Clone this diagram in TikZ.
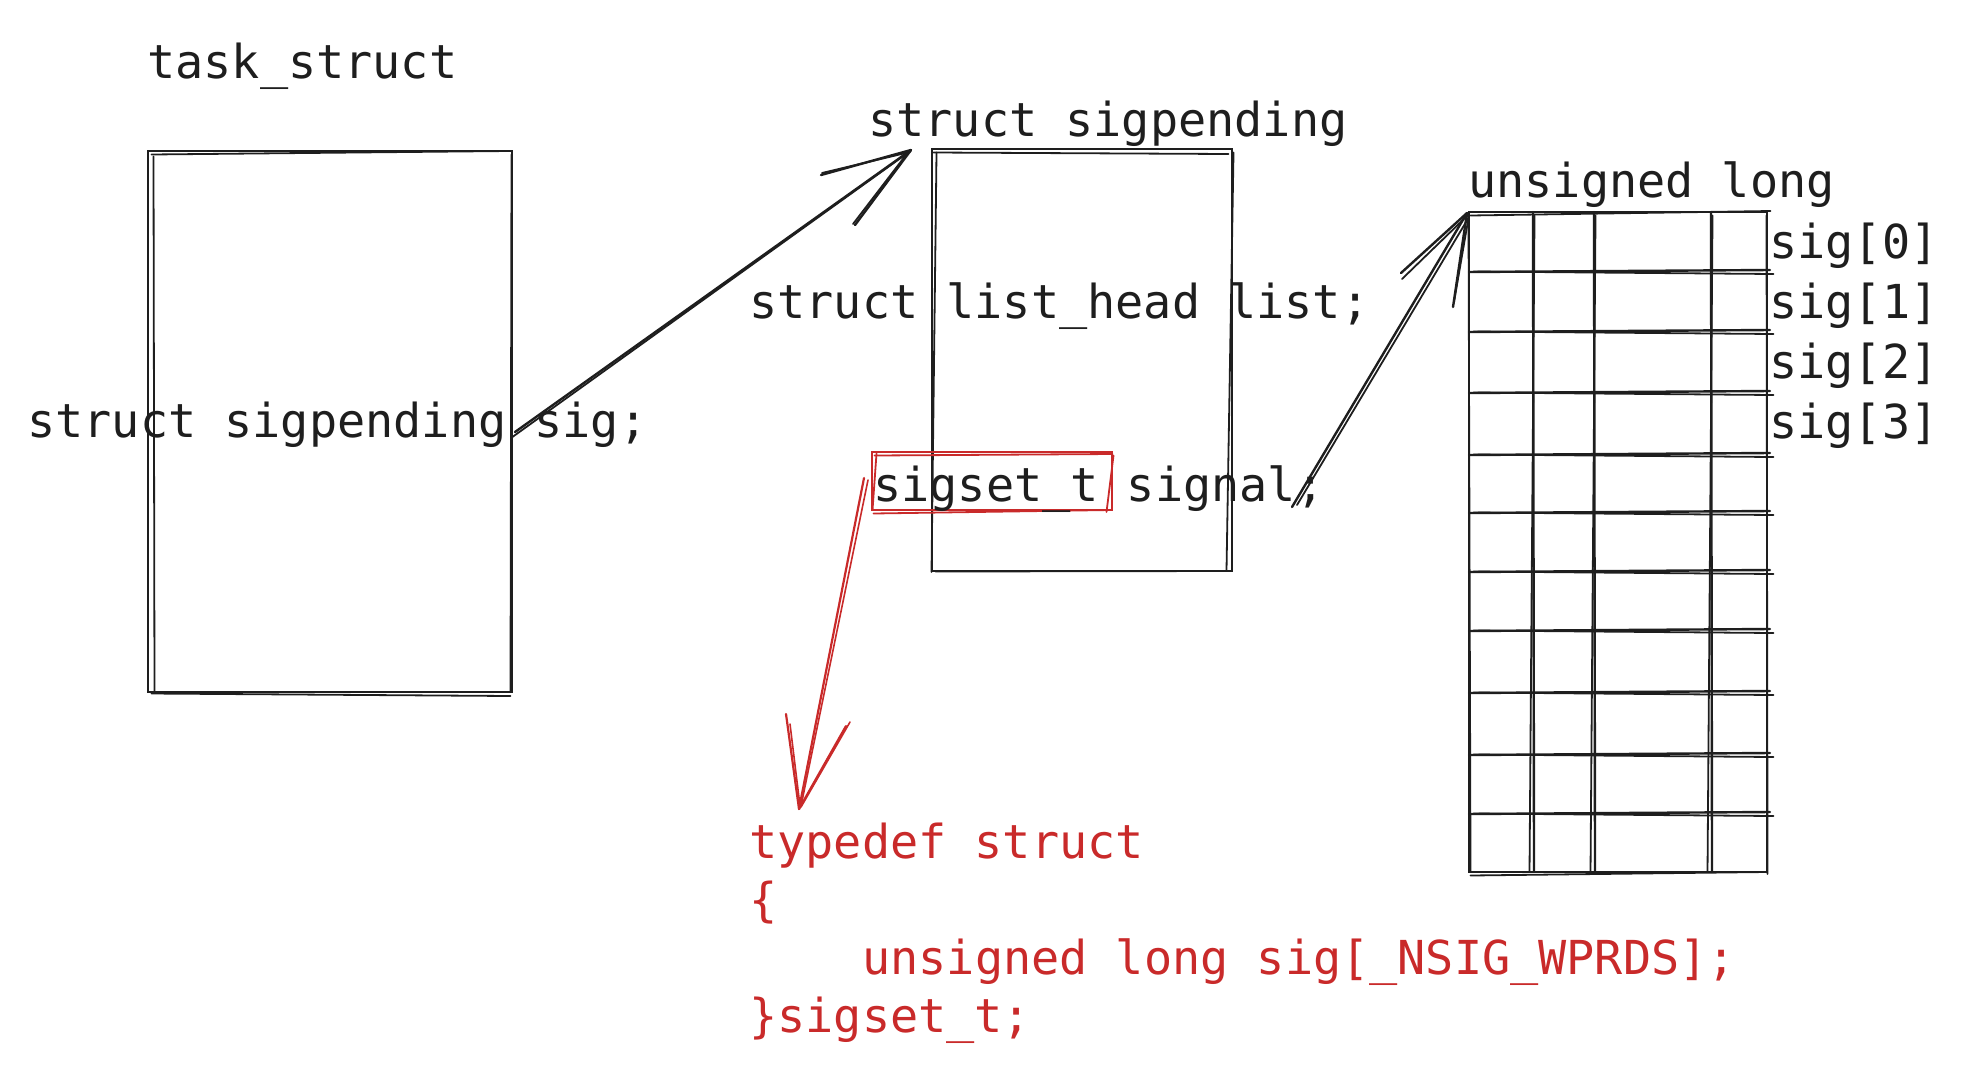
\documentclass[tikz,border=0pt]{standalone}
\usepackage{fontspec}
\setmonofont{DejaVu Sans Mono}
\usetikzlibrary{calc}
\definecolor{ink}{HTML}{1E1E1E}
\definecolor{redink}{HTML}{C92A2A}
\tikzset{
  stroke/.style={draw=ink,line width=1.2pt,line cap=round},
  rstroke/.style={draw=redink,line width=1.1pt,line cap=round},
  sbox/.style={draw=ink,line width=1.2pt,inner sep=0pt,rectangle},
  rbox/.style={draw=redink,line width=1.3pt,inner sep=0pt,rectangle},
  code/.style={anchor=base west,inner sep=0pt,font=\ttfamily\fontsize{23.4}{28}\selectfont,text=ink},
  rcode/.style={code,text=redink},
}
\newcommand\skl[5][stroke]{%
  \draw[#1,line width=0.9pt] ($(#2,#3)+(1.5,1.5)$) -- ($(#4,#5)+(-1.5,2)$);}
\begin{document}
\begin{tikzpicture}[x=0.5pt,y=-0.5pt]
\useasboundingbox (0,0) rectangle (1968,1071);
% ---------- boxes ----------
\node[sbox,minimum width=182pt,minimum height=270.5pt] (ts) at (330,421.5) {};
\skl{150}{153}{510}{149}
\skl{152}{155}{156}{690}
\skl{510}{153}{512}{690}
\skl{150}{692}{512}{694}
\node[sbox,minimum width=150pt,minimum height=211pt] (sp) at (1082,360) {};
\skl{932}{151}{1230}{152}
\skl{935}{151}{933}{570}
\skl{1232}{151}{1228}{568}
\skl{934}{570}{1230}{569}
\node[rbox,minimum width=120pt,minimum height=29pt] (rb) at (992,481) {};
\skl[rstroke]{873}{454}{1114}{452}
\skl[rstroke]{875}{452}{874}{508}
\skl[rstroke]{1112}{454}{1108}{510}
\skl[rstroke]{872}{512}{1112}{508}
% ---------- grid ----------
\node[sbox,minimum width=149pt,minimum height=330pt] (arr) at (1618,542) {};
\skl{1469}{214}{1772}{209}
\skl{1467}{216}{1472}{870}
\skl{1765}{214}{1769}{872}
\skl{1469}{874}{1767}{870}
\foreach \gx in {1533,1594,1711}{
  \draw[stroke] (\gx,212) -- (\gx+1,872);
  \skl{\gx}{214}{\gx-2}{870}
}
\foreach \gy in {271,331,392,454,512,571,630,692,754,813}{
  \draw[stroke] (1469,\gy+1) -- (1770,\gy-1);
  \skl{1472}{\gy-1}{1775}{\gy+1}
}
% ---------- texts ----------
\node[code] (t1) at (147,78) {task\_struct};
\node[code] (t2) at (868,136) {struct sigpending};
\node[code] (t3) at (27,437) {struct sigpending sig;};
\node[code] (t4) at (749,318) {struct list\_head list;};
\node[code] (t5) at (873,501) {sigset\_t signal;};
\node[code] (t6) at (1468,197) {unsigned long};
\node[code] (s0) at (1769,258) {sig[0]};
\node[code] (s1) at (1769,318) {sig[1]};
\node[code] (s2) at (1769,378) {sig[2]};
\node[code] (s3) at (1769,438) {sig[3]};
\node[rcode] (r1) at (749,858) {typedef struct};
\node[rcode] (r2) at (749,916) {\{};
\node[rcode] (r3) at (862,974) {unsigned long sig[\_NSIG\_WPRDS];};
\node[rcode] (r4) at (749,1032) {\}sigset\_t;};
% ---------- arrows ----------
\coordinate (a1s) at (515,432);
\coordinate (a1t) at (911,150);
\coordinate (a1b1) at (821,175);
\coordinate (a1b2) at (855,225);
\draw[stroke] (a1s) -- (a1t);
\draw[stroke,line width=0.9pt] ($(a1s)+(-4,6)$) -- ($(a1t)+(-2,2)$);
\draw[stroke] (a1t) -- (a1b1);
\draw[stroke,line width=0.9pt] ($(a1t)+(-1,2)$) -- ($(a1b1)+(1,-2)$);
\draw[stroke] (a1t) -- (a1b2);
\draw[stroke,line width=0.9pt] ($(a1t)+(-2,1)$) -- ($(a1b2)+(-2,-1)$);
\coordinate (a2s) at (1292,507);
\coordinate (a2t) at (1467,213);
\coordinate (a2b1) at (1401,273);
\coordinate (a2b2) at (1453,307);
\draw[stroke] (a2s) -- (a2t);
\draw[stroke,line width=0.9pt] ($(a2s)+(5,-2)$) -- ($(a2t)+(2,4)$);
\draw[stroke] (a2t) -- (a2b1);
\draw[stroke,line width=0.9pt] ($(a2t)+(1,2)$) -- ($(a2b1)+(1,6)$);
\draw[stroke] (a2t) -- (a2b2);
\draw[stroke,line width=0.9pt] ($(a2t)+(2,2)$) -- ($(a2b2)+(1,-5)$);
\coordinate (a3s) at (864,478);
\coordinate (a3t) at (799,809);
\coordinate (a3b1) at (786,714);
\coordinate (a3b2) at (846,726);
\draw[rstroke] (a3s) -- (a3t);
\draw[rstroke,line width=0.8pt] ($(a3s)+(4,2)$) -- ($(a3t)+(2,-3)$);
\draw[rstroke] (a3t) -- (a3b1);
\draw[rstroke,line width=0.8pt] ($(a3t)+(1,-3)$) -- ($(a3b1)+(4,10)$);
\draw[rstroke] (a3t) -- (a3b2);
\draw[rstroke,line width=0.8pt] ($(a3t)+(2,-2)$) -- ($(a3b2)+(4,-4)$);
\end{tikzpicture}
\end{document}
